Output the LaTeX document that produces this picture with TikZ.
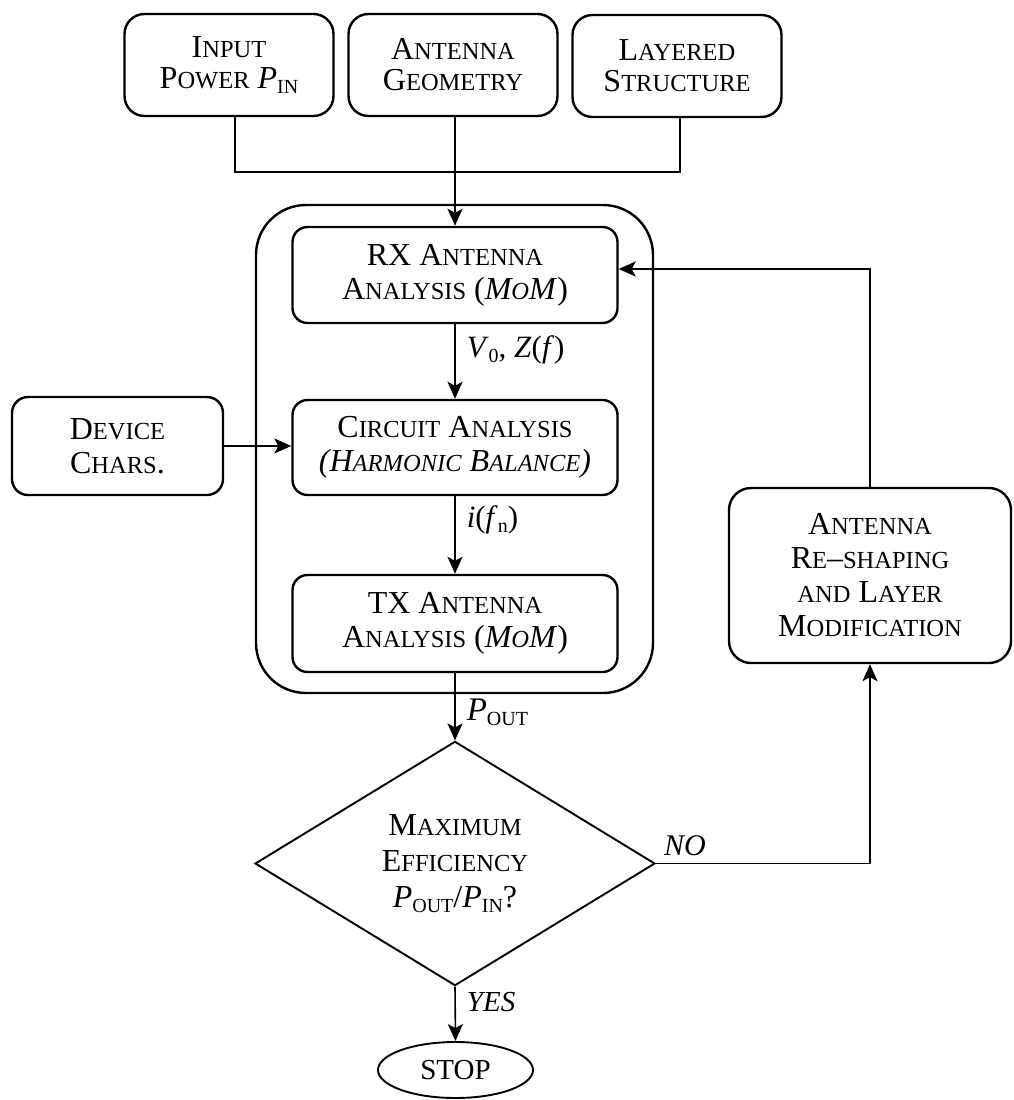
\documentclass[tikz,border=0pt]{standalone}
\usepackage{fontspec}
\setmainfont{Liberation Serif}
\usetikzlibrary{shapes.geometric,arrows.meta}
\newcommand\Sm[1]{{\fontsize{24.5}{24.5}\selectfont #1}}
\newcommand\Sb[1]{\raisebox{-5pt}{\fontsize{20}{20}\selectfont #1}}
\begin{document}
\begin{tikzpicture}[x=1pt,y=-1pt,
  font=\fontsize{32}{34}\selectfont,
  box/.style={draw, line width=2.4pt, rounded corners=16pt, align=center, inner sep=0pt},
  topbox/.style={box, rounded corners=20pt, minimum width=209pt, minimum height=102pt, font=\fontsize{32}{31}\selectfont},
  inbox/.style={box, rounded corners=15pt, minimum width=325pt, minimum height=96pt},
  conn/.style={line width=1.6pt},
  arr/.style={conn, -{Stealth[length=17pt,width=15pt,inset=4pt]}},
  lab/.style={inner sep=0pt, anchor=west, xshift=11pt, font=\fontsize{31}{31}\selectfont}]
\useasboundingbox (0,0) rectangle (1013,1100);
% top inputs
\node[topbox] (inp) at (229,65) {I\Sm{NPUT}\\P\Sm{OWER} \textit{P}\Sb{IN}};
\node[topbox] (geo) at (453,65) {A\Sm{NTENNA}\\G\Sm{EOMETRY}};
\node[topbox] (lay) at (677,66) {L\Sm{AYERED}\\S\Sm{TRUCTURE}};
% container
\node[box, rounded corners=50pt, minimum width=397pt, minimum height=488pt] (outer) at (454.5,449) {};
\node[inbox] (rx) at (455,275) {RX A\Sm{NTENNA}\\A\Sm{NALYSIS} (\textit{M\Sm{O}M})};
\node[inbox, minimum height=95pt] (cir) at (455,447.5) {C\Sm{IRCUIT} A\Sm{NALYSIS}\\\textit{(H\Sm{ARMONIC} B\Sm{ALANCE})}};
\node[inbox, minimum height=97pt] (tx) at (455,623.5) {TX A\Sm{NTENNA}\\A\Sm{NALYSIS} (\textit{M\Sm{O}M})};
% device
\node[box, minimum width=211pt, minimum height=98pt] (dev) at (117.5,446) {D\Sm{EVICE}\\C\Sm{HARS}.};
% decision
\node[diamond, draw, line width=1.9pt, minimum width=400pt, minimum height=227pt, inner sep=0pt, align=center, font=\fontsize{32}{36}\selectfont] (dia) at (455,863.5) {M\Sm{AXIMUM}\\E\Sm{FFICIENCY}\\\textit{P}\Sb{OUT}/\textit{P}\Sb{IN}?};
% reshaping
\node[box, rounded corners=22pt, minimum width=282pt, minimum height=175pt] (res) at (870,575.5) {A\Sm{NTENNA}\\R\Sm{E}--\Sm{SHAPING}\\\Sm{AND} L\Sm{AYER}\\M\Sm{ODIFICATION}};
% stop
\node[ellipse, draw, line width=1.9pt, minimum width=155pt, minimum height=56pt, inner sep=0pt, font=\fontsize{29}{29}\selectfont] (stop) at (455.5,1070) {STOP};
% connectors
\coordinate (j) at (455,172);
\draw[conn] ([xshift=6pt]inp.south) |- (j) -| ([xshift=3pt]lay.south);
\draw[conn] (geo.south -| j) -- (j);
\draw[arr] (j) -- (rx.north);
\draw[arr] (rx.south) -- node[lab, pos=0.35] {\textit{V}\Sb{0}, \textit{Z}(\textit{f})} (cir.north);
\draw[arr] (cir.south) -- node[lab, pos=0.31] {\textit{i}(\textit{f}\Sb{n})} (tx.north);
\draw[arr] (tx.south) -- node[lab, pos=0.58, font=\fontsize{33}{33}\selectfont] {\textit{P}\Sb{OUT}} (dia.north);
\draw[arr] (dev.east) -- (dev.east -| cir.west);
\draw[arr] (dia.east) -| (res.south);
\node[inner sep=0pt, anchor=south west, font=\fontsize{30}{30}\selectfont] (nolab) at ([xshift=8pt,yshift=8pt]dia.east) {\textit{NO}};
\draw[arr] (res.north) |- ([yshift=6pt]rx.east);
\draw[arr] (dia.south) -- node[lab, pos=0.28, font=\fontsize{29}{29}\selectfont] {\textit{YES}} (stop.north);
\end{tikzpicture}
\end{document}
